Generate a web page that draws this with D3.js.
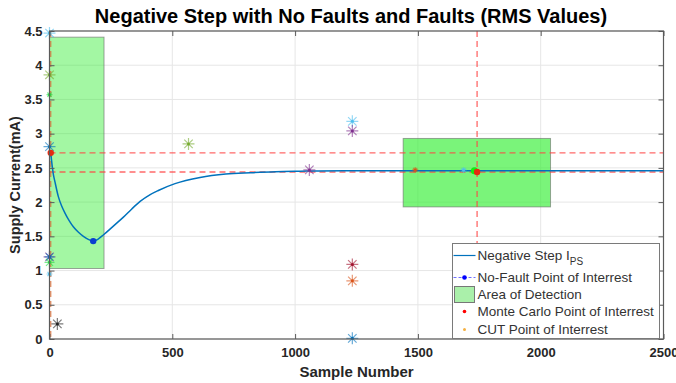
<!DOCTYPE html>
<html>
<head>
<meta charset="utf-8">
<script src="https://cdn.jsdelivr.net/npm/d3@7"></script>
<style>
  body { margin: 0; background: #fff; }
  svg { font-family: "Liberation Sans", Arial, sans-serif; }
</style>
</head>
<body>
<svg id="chart" width="676" height="383"></svg>
<script>
// curve: Negative Step I_PS
const curveX = [5, 8, 15, 22, 36, 50, 63, 80, 97, 118, 138, 158, 178, 198, 219, 260, 301, 335, 369, 410, 443, 511, 613, 718, 818, 920, 1021, 1200, 1500, 2000, 2500];
const curveY = [2.72, 2.62, 2.42, 2.30, 2.08, 1.94, 1.84, 1.73, 1.64, 1.56, 1.50, 1.455, 1.43, 1.46, 1.52, 1.65, 1.78, 1.90, 2.01, 2.11, 2.17, 2.27, 2.36, 2.41, 2.43, 2.445, 2.452, 2.46, 2.46, 2.46, 2.46];

// fault points (asterisks), colour index into palette
const starX = [0, 0, 0, 0, 0, 0, 0, 0, 32, 566, 1058, 1233, 1233, 1233, 1233, 1233, 1489, 1686];
const starY = [4.47, 3.86, 3.57, 2.81, 1.20, 1.20, 1.12, 0.95, 0.22, 2.85, 2.47, 3.18, 3.04, 1.09, 0.85, 0.01, 2.47, 2.47];
const starSeries = [5, 4, 7, 0, 3, 0, 7, 5, 8, 4, 3, 5, 3, 6, 1, 0, 1, 5];

const noFaultX = [178];
const noFaultY = [1.43];
const monteX = [5, 1741];
const monteY = [2.72, 2.44];
const cutX = [1730];
const cutY = [2.46];

// detection areas [x0, x1, y0, y1]
const areaX0 = [0, 1440];
const areaX1 = [222, 2040];
const areaY0 = [1.03, 1.93];
const areaY1 = [4.41, 2.93];

const hLines = [2.72, 2.44];
const vLines = [5, 1741];

const xTicks = [0, 500, 1000, 1500, 2000, 2500];
const yTicks = [0, 0.5, 1, 1.5, 2, 2.5, 3, 3.5, 4, 4.5];

const legendLabels = ["Negative Step I", "No-Fault Point of Interrest", "Area of Detection", "Monte Carlo Point of Interrest", "CUT Point of Interrest"];

const palette = ["#0072BD", "#D95319", "#EDB120", "#7E2F8E", "#77AC30", "#4DBEEE", "#A2142F", "#22dd44", "#222222"];

const svg = d3.select("#chart");
const pLeft = 49.5, pRight = 663.5, pTop = 31, pBottom = 339;

const x = d3.scaleLinear().domain([0, 2500]).range([pLeft, pRight]);
const y = d3.scaleLinear().domain([0, 4.5]).range([pBottom, pTop]);

// title
svg.append("text")
  .attr("x", 351).attr("y", 23)
  .attr("text-anchor", "middle")
  .style("font-size", "20px").style("font-weight", "bold")
  .style("fill", "#000")
  .text("Negative Step with No Faults and Faults (RMS Values)");

// grid
const grid = svg.append("g");
grid.selectAll(".gx").data(xTicks).enter().append("line")
  .attr("x1", d => x(d)).attr("x2", d => x(d))
  .attr("y1", pTop).attr("y2", pBottom)
  .style("stroke", "#e6e6e6");
grid.selectAll(".gy").data(yTicks).enter().append("line")
  .attr("x1", pLeft).attr("x2", pRight)
  .attr("y1", d => y(d)).attr("y2", d => y(d))
  .style("stroke", "#e6e6e6");

// areas of detection
const areaOpacity = [0.45, 0.65];
svg.selectAll(".area").data(areaX0).enter().append("rect")
  .attr("x", (d, i) => x(areaX0[i]))
  .attr("width", (d, i) => x(areaX1[i]) - x(areaX0[i]))
  .attr("y", (d, i) => y(areaY1[i]))
  .attr("height", (d, i) => y(areaY0[i]) - y(areaY1[i]))
  .style("fill", "#33ee33")
  .style("fill-opacity", (d, i) => areaOpacity[i])
  .style("stroke", "#6a6a6a")
  .style("stroke-opacity", 0.6);

// red dashed reference lines
svg.selectAll(".hl").data(hLines).enter().append("line")
  .attr("x1", pLeft).attr("x2", pRight)
  .attr("y1", d => y(d)).attr("y2", d => y(d))
  .style("stroke", "#ff4444").style("stroke-opacity", 0.8)
  .style("stroke-width", 1.3).style("stroke-dasharray", "6,4");
svg.selectAll(".vl").data(vLines).enter().append("line")
  .attr("x1", d => x(d)).attr("x2", d => x(d))
  .attr("y1", pTop).attr("y2", pBottom)
  .style("stroke", (d, i) => i === 0 ? "#e0703a" : "#ff4444").style("stroke-opacity", 0.8)
  .style("stroke-width", 1.3).style("stroke-dasharray", "6,4");

// curve
const curve = curveX.map((d, i) => [d, curveY[i]]);
svg.append("path")
  .datum(curve)
  .attr("d", d3.line().x(d => x(d[0])).y(d => y(d[1])).curve(d3.curveMonotoneX))
  .style("fill", "none")
  .style("stroke", "#0072BD")
  .style("stroke-width", 1.5);

// asterisk markers
function asterisk(r) {
  const d = r * Math.SQRT1_2;
  return `M${-r},0L${r},0M0,${-r}L0,${r}M${-d},${-d}L${d},${d}M${-d},${d}L${d},${-d}`;
}
const starSize = [6, 6, 3, 6, 6, 5, 5, 3, 6, 6, 6, 6, 6, 6, 6, 6, 3, 3];
const stars = svg.append("g");
stars.selectAll("path").data(starX).enter().append("path")
  .attr("transform", (d, i) => `translate(${x(starX[i])},${y(starY[i])})`)
  .attr("d", (d, i) => asterisk(starSize[i]))
  .style("stroke", (d, i) => palette[starSeries[i]])
  .style("stroke-opacity", 0.6)
  .style("stroke-width", 1.2)
  .style("fill", "none");
stars.selectAll("circle").data(starX).enter().append("circle")
  .attr("cx", (d, i) => x(starX[i])).attr("cy", (d, i) => y(starY[i]))
  .attr("r", 1.5)
  .style("fill", (d, i) => palette[starSeries[i]]);

// points of interest
svg.selectAll(".nf").data(noFaultX).enter().append("circle")
  .attr("cx", (d, i) => x(noFaultX[i])).attr("cy", (d, i) => y(noFaultY[i]))
  .attr("r", 3.2).style("fill", "#0a3fd0");
svg.selectAll(".cut").data(cutX).enter().append("circle")
  .attr("cx", (d, i) => x(cutX[i])).attr("cy", (d, i) => y(cutY[i]))
  .attr("r", 3.5).style("fill", "#11ee11");
svg.selectAll(".mc").data(monteX).enter().append("circle")
  .attr("cx", (d, i) => x(monteX[i])).attr("cy", (d, i) => y(monteY[i]))
  .attr("r", 3.2).style("fill", "#e62a10");

// axes box
const axisColor = "#5a5a5a";
svg.append("rect")
  .attr("x", pLeft).attr("y", pTop)
  .attr("width", pRight - pLeft).attr("height", pBottom - pTop)
  .style("fill", "none").style("stroke", axisColor).style("stroke-width", 1.2);

const xAxis = svg.append("g")
  .attr("transform", `translate(0,${pBottom})`)
  .call(d3.axisBottom(x).tickValues(xTicks).tickSize(-5).tickPadding(9).tickFormat(d3.format("d")));
const yAxis = svg.append("g")
  .attr("transform", `translate(${pLeft},0)`)
  .call(d3.axisLeft(y).tickValues(yTicks).tickSize(-5).tickPadding(7).tickFormat(d => d));
svg.append("g")
  .attr("transform", `translate(${pRight},0)`)
  .call(d3.axisRight(y).tickValues(yTicks).tickSize(-5).tickFormat(""));
svg.append("g")
  .attr("transform", `translate(0,${pTop})`)
  .call(d3.axisTop(x).tickValues(xTicks).tickSize(-5).tickFormat(""));

svg.selectAll(".domain").remove();
svg.selectAll(".tick line").style("stroke", axisColor);
[xAxis, yAxis].forEach(a => a.selectAll("text")
  .style("font-family", "Liberation Sans, Arial, sans-serif")
  .style("font-size", "13px").style("font-weight", "bold").style("fill", "#262626"));

// axis labels
svg.append("text")
  .attr("x", (pLeft + pRight) / 2).attr("y", 377)
  .attr("text-anchor", "middle")
  .style("font-size", "15px").style("font-weight", "bold").style("fill", "#262626")
  .text("Sample Number");
svg.append("text")
  .attr("transform", `translate(20,${(pTop + pBottom) / 2}) rotate(-90)`)
  .attr("text-anchor", "middle")
  .style("font-size", "14.5px").style("font-weight", "bold").style("fill", "#262626")
  .text("Supply Current(mA)");

// legend
const lg = svg.append("g").attr("transform", "translate(452.5,243.5)");
lg.append("rect")
  .attr("width", 207).attr("height", 95)
  .style("fill", "#fff").style("stroke", "#7a7a7a");
const rowY = [12, 34, 51, 68, 86];
lg.selectAll(".lt").data(legendLabels).enter().append("text")
  .attr("x", 25).attr("y", (d, i) => rowY[i] + 4.5)
  .style("font-size", "13.5px").style("fill", "#333")
  .text(d => d)
  .filter((d, i) => i === 0)
  .append("tspan").attr("dy", 5).style("font-size", "10px").text("PS");
lg.append("line").attr("x1", 1).attr("x2", 23).attr("y1", rowY[0]).attr("y2", rowY[0])
  .style("stroke", "#0072BD").style("stroke-width", 1.2);
lg.append("line").attr("x1", 1).attr("x2", 23).attr("y1", rowY[1]).attr("y2", rowY[1])
  .style("stroke", "#6f6fff").style("stroke-dasharray", "3,2");
lg.append("circle").attr("cx", 12).attr("cy", rowY[1]).attr("r", 2.3).style("fill", "#0000ff");
lg.append("rect").attr("x", 2).attr("y", rowY[2] - 8).attr("width", 20).attr("height", 16)
  .style("fill", "#aaf0aa").style("stroke", "#777");
lg.append("circle").attr("cx", 12).attr("cy", rowY[3]).attr("r", 1.8).style("fill", "#ff0000");
lg.append("circle").attr("cx", 12).attr("cy", rowY[4]).attr("r", 1.5).style("fill", "#f5b041");
</script>
</body>
</html>
